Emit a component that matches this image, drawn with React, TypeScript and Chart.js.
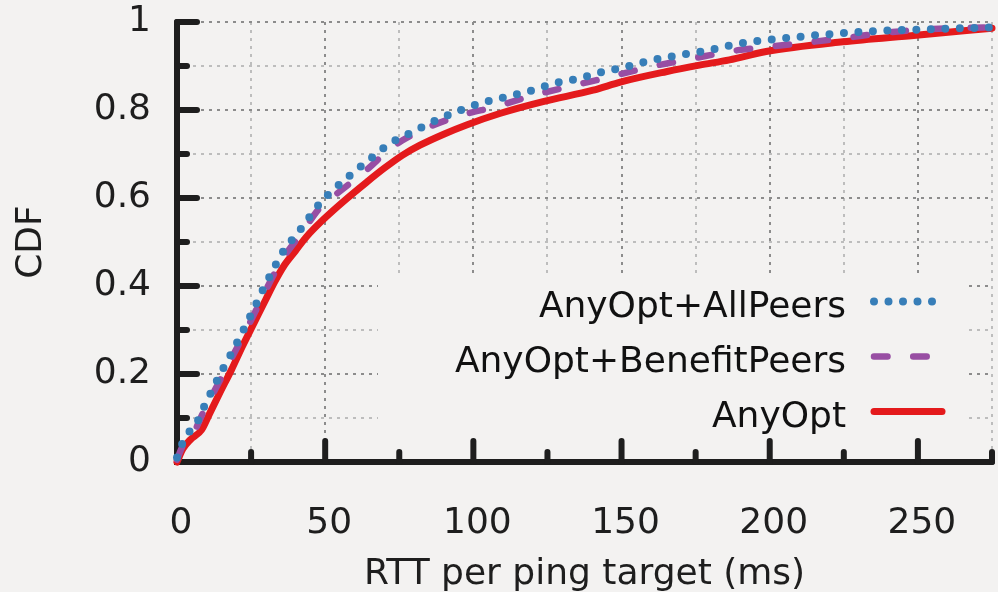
import React, { useEffect, useRef } from "react";
import { Chart, registerables } from "chart.js";

Chart.register(...registerables);

const BG = "#f3f2f1";
const FONT = "'DejaVu Sans', sans-serif";
const INK = "#1e1e1e";

const seriesLabels = ["AnyOpt+AllPeers", "AnyOpt+BenefitPeers", "AnyOpt"];
const seriesColors = ["#377eb8", "#984ea3", "#e41a1c"];

const allPeersRtt = [0, 1.6, 3.3, 6.6, 8.9, 12.2, 15.6, 19, 22.4, 25.7, 29.1, 32.5, 35.8, 41.5, 48.2, 52.7, 60.6, 67.3, 71.8, 78.6, 85.3, 93.2, 102.2, 111.2, 120.2, 126.9, 135.9, 141.5, 151.6, 159.5, 169.6, 179.7, 189.8, 205, 221.3, 237.6, 252.8, 275];
const allPeersCdf = [0.01, 0.039, 0.061, 0.088, 0.122, 0.168, 0.213, 0.255, 0.3, 0.345, 0.393, 0.438, 0.478, 0.527, 0.588, 0.618, 0.664, 0.7, 0.724, 0.747, 0.77, 0.793, 0.815, 0.83, 0.845, 0.86, 0.872, 0.883, 0.898, 0.912, 0.925, 0.936, 0.951, 0.963, 0.973, 0.98, 0.983, 0.988];

const benefitPeersRtt = [0, 1.8, 5.5, 9, 12.5, 16, 19.5, 23, 26.3, 29.6, 33, 36.5, 42, 48.5, 52.7, 64, 72.9, 85.3, 96.5, 107.8, 118.5, 132, 145.4, 158.9, 174.1, 189.3, 197.1, 209.5, 224.6, 239.8, 255, 275];
const benefitPeersCdf = [0.005, 0.035, 0.065, 0.115, 0.16, 0.205, 0.25, 0.295, 0.34, 0.385, 0.43, 0.47, 0.52, 0.58, 0.603, 0.664, 0.717, 0.762, 0.789, 0.808, 0.83, 0.853, 0.874, 0.897, 0.917, 0.936, 0.942, 0.951, 0.963, 0.976, 0.984, 0.988];

const anyOptRtt = [0, 2, 4.4, 8.3, 11, 14.5, 18.4, 22, 26, 30, 33, 36, 40, 43.7, 50, 57, 64, 70, 76, 82, 90, 97.7, 108.9, 123.5, 140.4, 149.9, 165, 176.3, 186.4, 198.8, 224.6, 249.4, 275];
const anyOptCdf = [0, 0.03, 0.05, 0.073, 0.11, 0.158, 0.21, 0.262, 0.316, 0.37, 0.41, 0.445, 0.48, 0.512, 0.555, 0.597, 0.636, 0.668, 0.697, 0.72, 0.745, 0.766, 0.792, 0.819, 0.845, 0.864, 0.887, 0.902, 0.914, 0.933, 0.955, 0.97, 0.986];

const xMin = 0;
const xMax = 275;
const xStep = 25;
const xLabelStep = 50;
const yMin = 0;
const yMax = 1;
const yStep = 0.1;

const xTitle = "RTT per ping target (ms)";
const yTitle = "CDF";

const toPoints = (xs: number[], ys: number[]) => xs.map((x, i) => ({ x, y: ys[i] }));

const chromePlugin = {
  id: "chrome",
  beforeDraw(chart: any) {
    const { ctx, width, height } = chart;
    ctx.save();
    ctx.fillStyle = BG;
    ctx.fillRect(0, 0, width, height);
    ctx.restore();
  },
  beforeDatasetsDraw(chart: any) {
    const { ctx, scales } = chart;
    const xs = scales.x;
    const ys = scales.y;
    const x0 = xs.getPixelForValue(xMin);
    const x1 = xs.getPixelForValue(xMax);
    const y0 = ys.getPixelForValue(yMin);
    const y1 = ys.getPixelForValue(yMax);
    ctx.save();
    // opaque key box
    ctx.fillStyle = BG;
    ctx.fillRect(378, 275, 966 - 378, y0 - 275);
    // axes
    ctx.strokeStyle = INK;
    ctx.lineCap = "round";
    ctx.lineWidth = 6;
    ctx.beginPath();
    ctx.moveTo(x0, y1);
    ctx.lineTo(x0, y0);
    ctx.lineTo(x1, y0);
    ctx.stroke();
    ys.ticks.forEach((t: any) => {
      const major = Math.round(t.value * 10) % 2 === 0;
      const py = ys.getPixelForValue(t.value);
      ctx.beginPath();
      ctx.moveTo(x0, py);
      ctx.lineTo(x0 + (major ? 20 : 10), py);
      ctx.stroke();
    });
    xs.ticks.forEach((t: any) => {
      const major = Math.round(t.value) % xLabelStep === 0;
      const px = xs.getPixelForValue(t.value);
      ctx.beginPath();
      ctx.moveTo(px, y0);
      ctx.lineTo(px, y0 - (major ? 21 : 10));
      ctx.stroke();
    });
    ctx.restore();
  },
  afterDraw(chart: any) {
    const { ctx } = chart;
    const textRight = 846;
    const sx0 = 874;
    const baselines = [316.5, 371.5, 426.5];
    ctx.save();
    ctx.font = `36px ${FONT}`;
    ctx.fillStyle = "#111";
    ctx.textAlign = "right";
    ctx.textBaseline = "alphabetic";
    chart.data.datasets.forEach((ds: any, i: number) => {
      const b = baselines[i];
      ctx.fillText(ds.label, textRight, b);
      const ly = b - 15;
      ctx.strokeStyle = ds.borderColor;
      ctx.lineWidth = ds.borderWidth;
      ctx.lineCap = "round";
      ctx.setLineDash(ds.borderDash || []);
      ctx.beginPath();
      ctx.moveTo(sx0, ly);
      ctx.lineTo(i === 0 ? 934 : i === 1 ? 928 : 942, ly);
      ctx.stroke();
    });
    ctx.restore();
  },
};

export default function App() {
  const canvasRef = useRef<HTMLCanvasElement | null>(null);

  useEffect(() => {
    const canvas = canvasRef.current;
    if (!canvas) return;
    const chart = new Chart(canvas, {
      type: "scatter",
      data: {
        datasets: [
          {
            label: seriesLabels[0],
            data: toPoints(allPeersRtt, allPeersCdf),
            showLine: true,
            borderColor: seriesColors[0],
            backgroundColor: seriesColors[0],
            borderWidth: 8,
            borderDash: [0, 14.5],
            borderCapStyle: "round",
            pointRadius: 0,
            cubicInterpolationMode: "monotone",
            clip: 10,
          },
          {
            label: seriesLabels[1],
            data: toPoints(benefitPeersRtt, benefitPeersCdf),
            showLine: true,
            borderColor: seriesColors[1],
            backgroundColor: seriesColors[1],
            borderWidth: 6.5,
            borderDash: [13.5, 25.7],
            borderCapStyle: "round",
            pointRadius: 0,
            cubicInterpolationMode: "monotone",
            clip: 10,
          },
          {
            label: seriesLabels[2],
            data: toPoints(anyOptRtt, anyOptCdf),
            showLine: true,
            borderColor: seriesColors[2],
            backgroundColor: seriesColors[2],
            borderWidth: 7,
            borderCapStyle: "round",
            borderJoinStyle: "round",
            pointRadius: 0,
            cubicInterpolationMode: "monotone",
            clip: 10,
          },
        ],
      },
      options: {
        responsive: false,
        animation: false,
        events: [],
        layout: { padding: { top: 22, right: 6, left: 0, bottom: 0 } },
        plugins: {
          legend: { display: false },
          tooltip: { enabled: false },
        },
        scales: {
          x: {
            type: "linear",
            min: xMin,
            max: xMax,
            afterFit: (s: any) => {
              s.height = 130;
              s.paddingLeft = 0;
              s.paddingRight = 0;
            },
            border: { display: false, dash: [3, 5] },
            grid: {
              drawTicks: false,
              lineWidth: 2,
              color: (c: any) =>
                c.tick && Math.round(c.tick.value) % xLabelStep === 0 ? "#8c8c8c" : "#bdbdbd",
            },
            ticks: {
              stepSize: xStep,
              autoSkip: false,
              maxRotation: 0,
              padding: 40,
              labelOffset: 4,
              color: INK,
              font: { family: FONT, size: 36 },
              callback: (v: any) => (Math.round(v) % xLabelStep === 0 ? String(v) : ""),
            },
            title: {
              display: true,
              text: xTitle,
              color: INK,
              font: { family: FONT, size: 36 },
              padding: { top: 0, bottom: -4 },
            },
          },
          y: {
            type: "linear",
            min: yMin,
            max: yMax,
            afterFit: (s: any) => {
              s.width = 177;
              s.paddingTop = 0;
              s.paddingBottom = 0;
            },
            border: { display: false, dash: [3, 5] },
            grid: {
              drawTicks: false,
              lineWidth: 2,
              color: (c: any) =>
                c.tick && Math.round(c.tick.value * 10) % 2 === 0 ? "#8c8c8c" : "#bdbdbd",
            },
            ticks: {
              stepSize: yStep,
              autoSkip: false,
              padding: 26,
              color: INK,
              font: { family: FONT, size: 36 },
              callback: (v: any) => {
                const k = Math.round(v * 10);
                return k % 2 === 0 ? String(k / 10) : "";
              },
            },
            title: {
              display: true,
              text: yTitle,
              color: INK,
              font: { family: FONT, size: 36 },
              padding: { top: 10, bottom: 0 },
            },
          },
        },
      },
      plugins: [chromePlugin],
    } as any);
    return () => chart.destroy();
  }, []);

  return (
    <div style={{ position: "fixed", left: 0, top: 0, width: 998, height: 592, background: BG }}>
      <canvas ref={canvasRef} width={998} height={592} style={{ display: "block", width: 998, height: 592 }} />
    </div>
  );
}
